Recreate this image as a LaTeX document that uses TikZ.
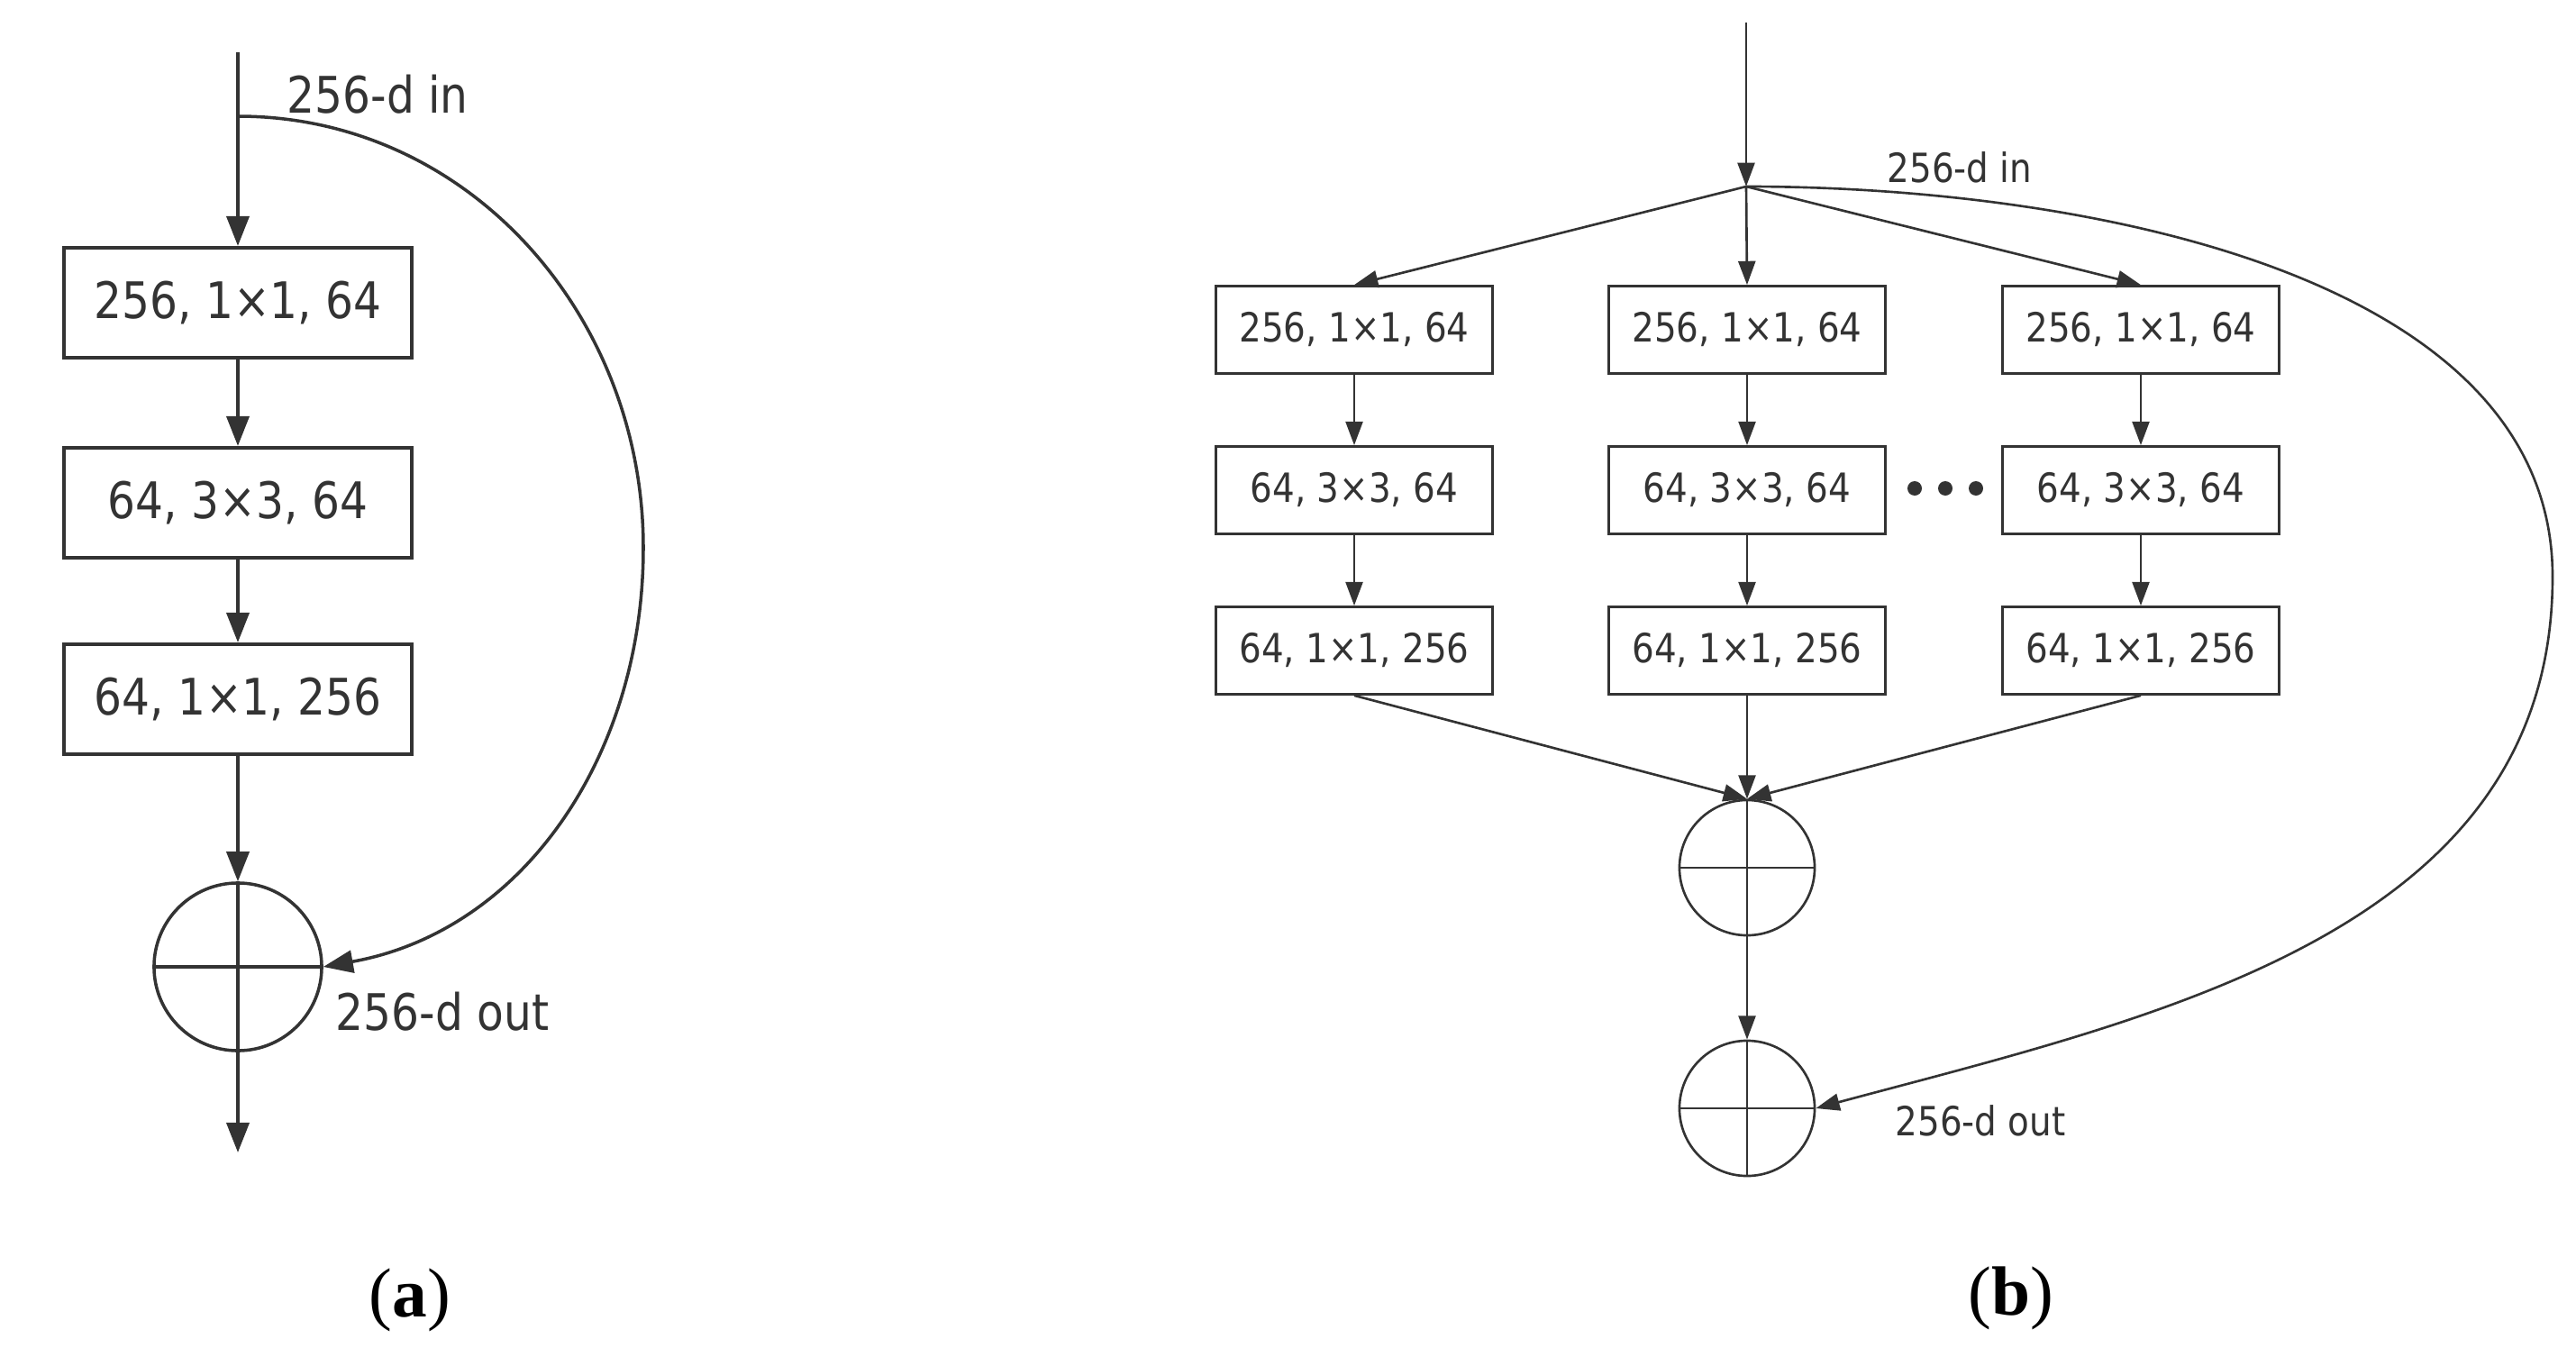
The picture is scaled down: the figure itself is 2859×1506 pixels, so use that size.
\documentclass[tikz,border=0pt]{standalone}
\usepackage{fontspec}
\usepackage{tikz}
\usepackage{xcolor}
\usetikzlibrary{arrows.meta}
\newfontfamily\boxfont{DejaVu Sans}[FakeStretch=0.87]
\newfontfamily\capfont{Liberation Serif}
\definecolor{lc}{RGB}{51,51,51}

\tikzset{
blka/.style={draw=lc,line width=1.14pt,minimum width=3.85cm,minimum height=1.22cm,inner sep=0pt,text=lc,font=\boxfont\fontsize{15.9}{18}\selectfont},
blkb/.style={draw=lc,line width=0.75pt,minimum width=3.07cm,minimum height=0.97cm,inner sep=0pt,text=lc,font=\boxfont\fontsize{12.7}{15}\selectfont},
suma/.style={circle,draw=lc,line width=1pt,minimum size=1.86cm,inner sep=0pt},
sumb/.style={circle,draw=lc,line width=0.75pt,minimum size=1.5cm,inner sep=0pt},
arra/.style={-{Triangle[length=9.4pt,width=7.1pt]},line width=1.14pt,draw=lc},
arrb/.style={-{Triangle[length=7.5pt,width=5.4pt]},line width=0.75pt,draw=lc},
laba/.style={anchor=base west,inner sep=0pt,text=lc,font=\boxfont\fontsize{15.9}{18}\selectfont},
labb/.style={anchor=base west,inner sep=0pt,text=lc,font=\boxfont\fontsize{12.7}{15}\selectfont},
capt/.style={inner sep=0pt,font=\capfont\fontsize{22}{26}\selectfont}
}

\begin{document}
\begin{tikzpicture}[x=0.01cm,y=-0.01cm]
\useasboundingbox (0,0) rectangle (2859,1506);

% (a)
\coordinate(ina) at (264,58);
\coordinate(bra) at (264,129);
\coordinate(rta) at (714,608);
\coordinate(outa) at (264,1279);
\node[blka](a1) at (264,336){256, 1×1, 64};
\node[blka](a2) at (264,558){64, 3×3, 64};
\node[blka](a3) at (264,776){64, 1×1, 256};
\node[suma](sa) at (264,1073){};
\node[laba](ia) at (318,125){256-d in};
\node[laba](oa) at (372,1143){256-d out};
\node[capt](ca) at (455,1443){(\textbf{a})};

\draw[line width=1.14pt,draw=lc](ina)--(bra);
\draw[arra](bra)--(a1);
\draw[arra](a1)--(a2);
\draw[arra](a2)--(a3);
\draw[arra](a3)--(sa.north);
\draw[line width=1pt,draw=lc](sa.north)--(sa.south);
\draw[line width=1pt,draw=lc](sa.west)--(sa.east);
\draw[arra](sa.south)--(outa);
\draw[line width=1pt,draw=lc](bra) .. controls (521,129) and (714,351) .. (rta);
\draw[arra,line width=1pt](rta) .. controls (714,837) and (582,1033) .. (sa.east);

% (b)
\coordinate(inb) at (1938,25);
\coordinate(brb) at (1938,207);
\coordinate(rtb) at (2833,640);
\node[blkb](b1) at (1503,366){256, 1×1, 64};
\node[blkb](b2) at (1503,544){64, 3×3, 64};
\node[blkb](b3) at (1503,722){64, 1×1, 256};
\node[blkb](c1) at (1939,366){256, 1×1, 64};
\node[blkb](c2) at (1939,544){64, 3×3, 64};
\node[blkb](c3) at (1939,722){64, 1×1, 256};
\node[blkb](d1) at (2376,366){256, 1×1, 64};
\node[blkb](d2) at (2376,544){64, 3×3, 64};
\node[blkb](d3) at (2376,722){64, 1×1, 256};
\node[sumb](sb) at (1939,963){};
\node[sumb](sc) at (1939,1230){};
\node[labb](ib) at (2094,202){256-d in};
\node[labb](ob) at (2103,1260){256-d out};
\node[capt](cb) at (2232,1441){(\textbf{b})};
\fill[lc] (2125,542) circle (8) (2159,542) circle (8) (2193,542) circle (8);

\draw[arrb](inb)--(brb);
\draw[arrb](brb)--(b1.north);
\draw[arrb](brb)--(c1.north);
\draw[arrb](brb)--(d1.north);
\draw[arrb](b1)--(b2);
\draw[arrb](b2)--(b3);
\draw[arrb](c1)--(c2);
\draw[arrb](c2)--(c3);
\draw[arrb](d1)--(d2);
\draw[arrb](d2)--(d3);
\draw[arrb](b3.south)--(sb.north);
\draw[arrb](c3.south)--(sb.north);
\draw[arrb](d3.south)--(sb.north);
\draw[line width=0.75pt,draw=lc](sb.north)--(sb.south);
\draw[line width=0.75pt,draw=lc](sb.west)--(sb.east);
\draw[arrb](sb.south)--(sc.north);
\draw[line width=0.75pt,draw=lc](sc.north)--(sc.south);
\draw[line width=0.75pt,draw=lc](sc.west)--(sc.east);
\draw[line width=0.75pt,draw=lc](brb) .. controls (2300,207) and (2833,300) .. (rtb);
\draw[arrb](rtb) .. controls (2833,1035) and (2395,1128) .. (sc.east);

\end{tikzpicture}
\end{document}
